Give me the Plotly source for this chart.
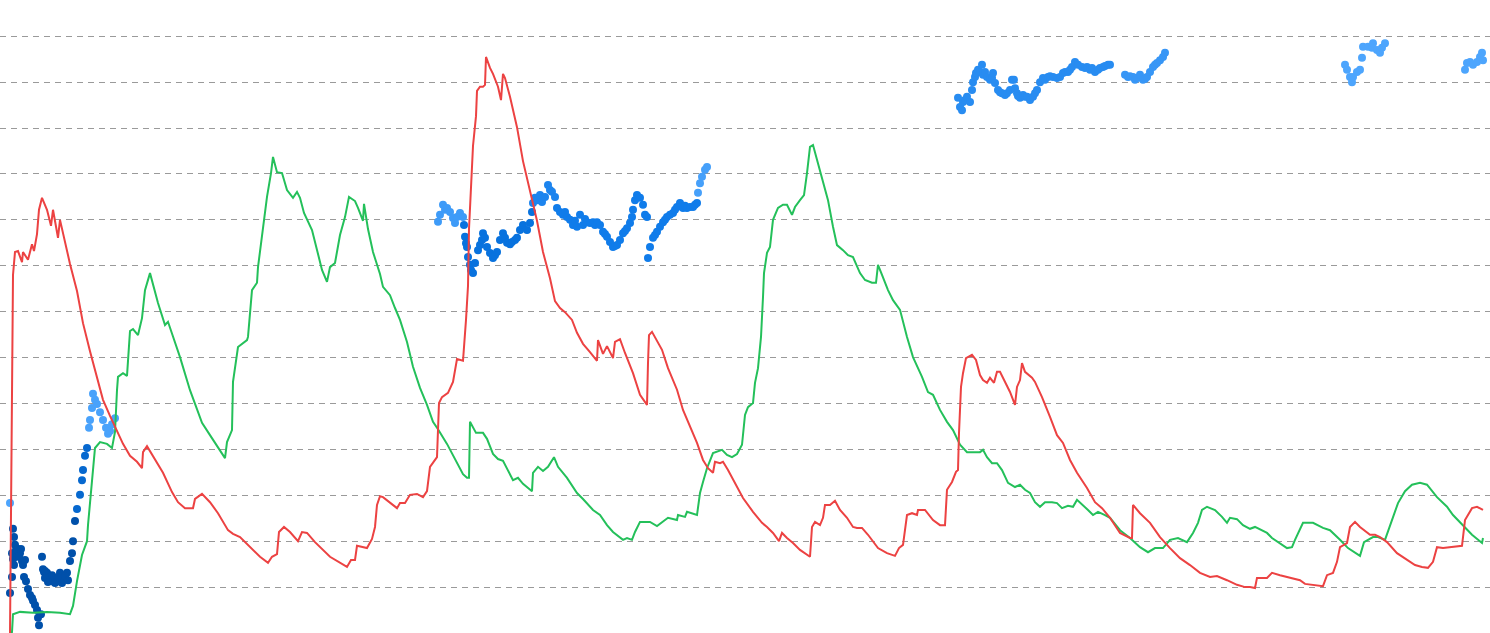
import plotly.graph_objects as go

# ---- red series ----
red_x = [10, 11, 12, 13, 15, 18, 22, 23, 28, 32, 34, 37, 39, 42, 47, 51, 53, 58, 60, 65, 70, 77, 83, 90, 97,
         103, 110, 117, 123, 130, 137, 142, 143, 147, 153, 163, 172, 178, 185, 193, 195, 202, 210, 218, 228,
         233, 240, 250, 260, 268, 272, 277, 279, 284, 290, 298, 302, 307, 315, 330, 340, 347, 351, 355, 357,
         367, 372, 375, 377, 380, 383, 397, 400, 405, 410, 417, 423, 427, 430, 435, 437, 439, 442, 448, 453,
         457, 463, 466, 468, 469, 471, 473, 476, 477, 480, 483, 485, 486, 490, 493, 498, 501, 503, 505, 510,
         517, 523, 530, 537, 543, 550, 555, 560, 565, 572, 577, 583, 590, 597, 598, 603, 607, 610, 613, 615,
         620, 625, 633, 640, 647, 648, 649, 652, 657, 662, 668, 677, 683, 690, 697, 703, 708, 713, 715, 720,
         723, 728, 735, 743, 753, 762, 767, 773, 779, 782, 787, 793, 800, 807, 810, 812, 815, 820, 823, 825,
         830, 835, 840, 847, 853, 857, 862, 868, 878, 887, 895, 899, 903, 907, 912, 917, 918, 925, 933, 940,
         945, 947, 952, 956, 958, 959, 961, 963, 966, 972, 976, 980, 983, 987, 990, 994, 997, 1000, 1005,
         1010, 1015, 1017, 1020, 1022, 1025, 1032, 1035, 1042, 1050, 1057, 1063, 1070, 1077, 1087, 1095,
         1102, 1110, 1120, 1130, 1132, 1133, 1140, 1150, 1160, 1170, 1180, 1190, 1200, 1210, 1217, 1227,
         1237, 1245, 1250, 1255, 1257, 1267, 1272, 1280, 1290, 1300, 1305, 1313, 1323, 1327, 1333, 1337,
         1340, 1347, 1350, 1355, 1360, 1370, 1375, 1380, 1387, 1397, 1407, 1415, 1422, 1428, 1433, 1437,
         1443, 1453, 1462, 1465, 1472, 1477, 1483]
red_y = [0, 29.0, 70.2, 78.0, 83.0, 83.2, 80.8, 83.0, 81.3, 84.7, 83.2, 86.9, 92.2, 94.8, 92.2, 88.7, 92.2,
         86.1, 90.0, 85.2, 80.4, 74.5, 67.5, 61.4, 55.8, 50.8, 47.3, 44.2, 41.2, 38.6, 37.3, 35.9, 39.4,
         40.7, 38.6, 34.9, 30.7, 28.5, 27.2, 27.2, 29.2, 30.3, 28.5, 26.1, 22.4, 21.6, 20.9, 18.7, 16.6,
         15.3, 16.6, 17.2, 22.0, 23.1, 22.0, 20.0, 22.0, 21.8, 19.8, 16.6, 15.3, 14.4, 15.9, 15.9, 19.0,
         18.5, 20.5, 23.1, 27.9, 29.8, 29.6, 27.2, 28.3, 28.3, 30.1, 30.3, 29.6, 30.9, 36.2, 37.9, 38.3,
         50.1, 51.4, 52.3, 54.7, 59.7, 59.3, 68.2, 75.6, 88.0, 96.7, 106.1, 112.6, 118.1, 119.0, 119.0,
         119.4, 125.5, 123.1, 121.8, 119.0, 116.1, 121.8, 120.9, 116.8, 110.2, 102.8, 96.3, 89.8, 83.0,
         77.3, 72.3, 70.8, 69.9, 68.2, 65.4, 63.0, 61.2, 59.3, 63.8, 60.8, 62.5, 61.2, 59.9, 63.4, 64.0,
         61.0, 56.6, 51.9, 49.7, 58.8, 64.9, 65.6, 63.8, 61.7, 57.7, 53.0, 48.6, 44.9, 41.4, 37.7, 35.9,
         34.9, 37.3, 37.0, 37.3, 35.5, 32.7, 29.4, 26.4, 24.0, 23.1, 21.8, 20.0, 21.8, 20.7, 19.6, 18.1,
         17.0, 16.6, 23.1, 24.2, 23.5, 25.1, 27.9, 27.9, 28.8, 26.8, 25.1, 23.1, 22.9, 22.9, 21.4, 18.5,
         17.4, 16.8, 18.5, 19.2, 25.7, 26.1, 25.7, 26.8, 26.8, 24.6, 23.5, 23.5, 31.2, 32.9, 35.1, 35.5,
         43.6, 53.6, 56.6, 59.9, 60.6, 59.5, 56.2, 55.1, 54.5, 55.6, 54.5, 56.9, 56.9, 54.7, 52.5, 49.7,
         53.6, 55.1, 58.8, 56.9, 55.6, 54.7, 51.4, 47.1, 43.1, 41.4, 37.7, 34.9, 31.6, 28.5, 27.2, 25.1,
         21.8, 20.7, 20.7, 27.9, 26.1, 24.0, 20.9, 18.5, 16.3, 14.8, 13.1, 12.2, 12.4, 11.5, 10.5, 10.0,
         10.0, 9.8, 12.0, 12.0, 13.1, 12.6, 12.0, 11.5, 10.7, 10.5, 10.2, 12.6, 13.1, 15.5, 18.7, 19.6,
         23.1, 24.2, 23.1, 21.4, 21.4, 20.9, 19.8, 17.4, 15.9, 14.8, 14.4, 14.2, 15.5, 18.7, 18.5, 18.7,
         19.0, 24.6, 27.2, 27.5, 26.8]

# ---- green series ----
green_x = [10, 12, 13, 20, 33, 47, 60, 70, 73, 77, 82, 87, 88, 92, 95, 100, 107, 112, 115, 117, 118, 123,
           127, 130, 133, 138, 142, 145, 150, 158, 165, 168, 180, 190, 202, 210, 225, 227, 232, 233, 238,
           247, 248, 252, 257, 258, 263, 267, 271, 273, 277, 282, 287, 293, 297, 300, 304, 312, 322, 327,
           330, 335, 340, 345, 349, 355, 358, 363, 364, 368, 373, 380, 383, 390, 395, 400, 407, 413, 420,
           427, 433, 438, 447, 457, 463, 467, 469, 470, 473, 476, 483, 487, 493, 498, 503, 508, 513, 518,
           523, 532, 533, 538, 543, 548, 552, 554, 558, 567, 577, 583, 593, 600, 607, 613, 623, 627, 632,
           635, 640, 650, 657, 663, 668, 677, 678, 685, 687, 697, 700, 703, 707, 713, 722, 727, 732, 737,
           742, 745, 748, 753, 755, 758, 761, 763, 764, 767, 770, 773, 778, 783, 787, 792, 795, 800, 804,
           807, 810, 813, 818, 823, 828, 833, 837, 843, 848, 853, 860, 865, 872, 876, 878, 882, 888, 893,
           900, 907, 913, 922, 928, 933, 940, 947, 953, 960, 967, 973, 980, 983, 987, 992, 997, 1002, 1008,
           1015, 1020, 1025, 1030, 1035, 1040, 1045, 1052, 1057, 1062, 1068, 1073, 1077, 1083, 1088, 1093,
           1098, 1105, 1110, 1120, 1130, 1140, 1148, 1155, 1163, 1170, 1178, 1187, 1193, 1198, 1202, 1207,
           1215, 1222, 1227, 1230, 1237, 1243, 1250, 1255, 1262, 1267, 1272, 1280, 1287, 1292, 1295, 1303,
           1313, 1323, 1330, 1340, 1348, 1360, 1364, 1373, 1378, 1385, 1392, 1398, 1405, 1412, 1420, 1427,
           1437, 1447, 1453, 1463, 1472, 1482, 1483]
green_y = [0, 0.2, 4.1, 4.6, 4.4, 4.6, 4.4, 4.1, 5.9, 11.3, 17.0, 20.0, 23.5, 34.2, 40.3, 41.6, 41.2,
           40.3, 43.8, 52.9, 55.8, 56.6, 56.0, 65.8, 66.2, 64.9, 68.6, 74.7, 78.4, 71.9, 67.1, 67.8, 60.1,
           52.9, 45.8, 43.1, 38.1, 41.6, 44.2, 54.7, 62.3, 63.8, 64.5, 74.7, 76.3, 79.7, 88.5, 95.0, 100.2,
           103.7, 100.4, 100.2, 96.5, 94.8, 96.1, 94.8, 91.5, 87.8, 79.1, 76.5, 79.7, 80.6, 86.7, 90.6, 95.0,
           94.1, 92.6, 89.8, 93.5, 88.0, 83.0, 78.2, 75.4, 73.6, 70.8, 68.2, 63.4, 58.0, 53.4, 49.7, 46.0,
           44.4, 41.2, 37.0, 34.6, 33.8, 33.8, 46.0, 44.9, 43.6, 43.6, 42.3, 39.0, 37.9, 37.5, 35.3, 33.3,
           33.8, 32.5, 30.9, 34.9, 36.2, 35.3, 36.2, 37.5, 38.3, 36.2, 33.8, 30.5, 29.2, 26.8, 25.7, 23.5,
           22.0, 20.3, 20.7, 20.3, 22.0, 24.2, 24.2, 23.3, 24.2, 25.1, 24.6, 25.7, 25.3, 26.4, 25.7, 30.5,
           32.9, 35.9, 39.2, 39.9, 38.8, 38.3, 39.0, 41.0, 47.5, 49.2, 50.1, 54.5, 57.7, 64.5, 73.2, 78.4,
           82.8, 84.1, 90.0, 92.6, 93.3, 93.3, 91.1, 92.8, 94.3, 95.4, 100.2, 105.9, 106.3, 102.4, 98.7,
           94.3, 88.5, 84.5, 83.4, 82.3, 81.9, 78.4, 76.9, 76.3, 76.3, 80.2, 78.0, 74.7, 72.5, 70.4, 64.5,
           60.1, 55.8, 52.5, 51.9, 48.6, 46.0, 44.2, 41.0, 39.4, 39.4, 39.4, 39.9, 38.3, 37.0, 37.0, 35.5,
           32.7, 31.8, 32.3, 31.2, 30.5, 28.5, 27.5, 28.5, 28.5, 28.3, 27.2, 27.7, 27.5, 29.0, 27.9, 26.8,
           25.7, 26.4, 25.7, 25.1, 22.4, 20.7, 18.7, 17.6, 18.5, 18.5, 20.3, 20.7, 19.8, 21.8, 24.0, 26.8,
           27.5, 26.8, 25.3, 24.0, 25.1, 24.8, 23.5, 22.7, 23.1, 22.4, 21.8, 20.7, 19.6, 18.5, 18.7, 20.3,
           24.0, 24.0, 22.9, 22.4, 20.3, 18.5, 16.8, 19.8, 20.9, 20.9, 20.3, 24.6, 28.3, 30.9, 32.3, 32.7,
           32.3, 29.6, 27.5, 25.7, 23.5, 21.4, 19.6, 20.7]

# ---- blue scatter series, in runs that share one intensity level (0 = deep, 1 = pale) ----
blue_a_x = [10]
blue_a_y = [28.3]
blue_a_level = 0.95

blue_b_x = [10, 12, 13, 13, 14, 15, 17, 18, 20, 22, 23, 24, 26, 28, 30, 32, 33, 35, 37, 38, 39, 41, 42, 43,
            45, 47, 50, 53, 55, 57, 60, 63, 65, 67, 70, 72, 73, 75,
            12, 16, 19, 21, 25, 14, 44, 45, 48, 52, 55, 58, 62, 65, 68]
blue_b_y = [8.7, 12.2, 22.7, 16.1, 20.9, 19.2, 16.6, 18.3, 17.4, 15.7, 14.8, 12.2, 11.3, 9.6, 8.3, 7.6, 7.0,
            6.1, 5.0, 3.3, 1.7, 4.1, 16.6, 13.9, 13.5, 13.1, 12.2, 11.3, 12.0, 11.3, 13.1, 12.2, 12.6, 13.1,
            15.7, 17.4, 20.0, 24.4,
            17.4, 18.1, 16.8, 18.3, 15.9, 14.8, 13.3, 12.0, 11.1, 12.6, 10.9, 12.2, 10.9, 12.4, 11.5]
blue_b_level = 0.0

blue_c_x = [77, 80, 82, 83, 85, 87]
blue_c_y = [27.0, 30.1, 33.3, 35.5, 38.6, 40.3]
blue_c_level = 0.3

blue_d_x = [89, 90, 92, 93, 95, 97, 100, 103, 106, 108, 110, 112, 115]
blue_d_y = [44.7, 46.4, 49.0, 52.1, 50.8, 49.9, 48.1, 46.4, 44.7, 43.4, 44.0, 45.5, 46.8]
blue_d_level = 0.92

blue_e_x = [438, 440, 443, 445, 447, 450, 453, 455, 457, 460, 463]
blue_e_y = [89.6, 91.1, 93.3, 92.2, 92.6, 91.7, 90.4, 89.3, 90.6, 91.5, 90.6]
blue_e_level = 0.85

blue_f_x = [464, 465, 466, 467, 468, 470, 471, 473, 475, 478, 480, 482, 483, 485, 487, 490, 493, 495, 497,
            500, 503, 505, 507, 510, 512, 515, 517, 520, 523, 527, 530, 532]
blue_f_y = [88.9, 86.3, 84.9, 84.1, 81.9, 80.2, 79.1, 78.4, 80.6, 83.4, 84.5, 85.6, 87.1, 86.1, 84.1, 82.8,
            81.7, 82.3, 83.0, 85.6, 87.1, 86.1, 85.0, 84.7, 85.2, 85.6, 86.1, 87.8, 88.9, 87.8, 89.3, 91.7]
blue_f_level = 0.42

blue_g_x = [533, 535, 537, 540, 542, 545, 548, 550, 552, 555]
blue_g_y = [93.7, 94.8, 94.3, 95.4, 93.9, 95.0, 97.6, 96.5, 96.1, 95.0]
blue_g_level = 0.62

blue_h_x = [557, 560, 563, 565, 567, 570, 573, 575, 577, 580, 583, 585, 587, 590, 593, 595, 597, 600, 603,
            605, 607, 610, 613, 615, 617, 620, 623, 625, 627, 630, 632, 633, 635, 637, 640, 643, 645, 647,
            648, 650, 653, 655, 657, 660, 663, 665, 667, 670, 673, 675, 677, 680, 683, 685, 687, 690, 693,
            695, 697]
blue_h_y = [92.6, 91.7, 91.1, 91.7, 90.6, 90.0, 88.9, 89.8, 88.5, 91.1, 88.9, 90.2, 89.5, 89.3, 89.5, 88.9,
            89.5, 88.9, 87.4, 86.9, 86.3, 85.2, 84.1, 84.3, 84.5, 85.6, 87.1, 87.6, 88.2, 89.3, 90.6, 92.2,
            94.3, 95.4, 94.8, 93.3, 91.1, 90.6,
            81.7, 84.1, 86.1, 86.7, 87.4, 88.5, 89.5, 90.0, 90.6, 91.1, 91.5, 92.2, 92.8, 93.7, 92.6, 93.1,
            92.6, 92.8, 92.8, 93.3, 93.7]
blue_h_level = 0.54

blue_i_x = [698, 700, 702, 705, 707]
blue_i_y = [95.9, 98.0, 99.4, 100.9, 101.5]
blue_i_level = 0.9

blue_j_x = [958, 960, 962, 963, 965, 967, 970, 972, 973, 975, 976, 978, 980, 982, 983, 985, 987, 990, 992,
            993, 995, 998, 1000, 1002, 1005, 1007, 1010, 1012, 1014, 1015, 1017, 1018, 1020, 1023, 1025,
            1027, 1030, 1033, 1035, 1037, 1040, 1043, 1045, 1048, 1050, 1053, 1057, 1060, 1063, 1065, 1068,
            1070, 1072, 1075, 1078, 1082, 1085, 1087, 1090, 1092, 1095, 1098, 1100, 1103, 1105, 1108, 1110]
blue_j_y = [116.6, 114.6, 113.9, 115.7, 116.1, 116.8, 115.7, 118.3, 120.0, 121.1, 122.0, 122.7, 122.2,
            123.8, 121.6, 122.2, 121.1, 120.5, 120.9, 122.0, 119.8, 118.3, 117.8, 117.6, 117.2, 117.6,
            118.3, 120.5, 120.5, 118.7, 117.6, 117.0, 116.6, 117.2, 116.8, 116.8, 116.1, 116.8, 117.6,
            118.3, 120.0, 120.9, 120.5, 121.1, 121.3, 121.1, 120.9, 121.1, 122.0, 122.2, 122.2, 122.7,
            123.3, 124.4, 123.8, 123.3, 123.1, 123.3, 122.7, 123.1, 122.2, 122.7, 123.1, 123.3, 123.5,
            123.8, 123.8]
blue_j_level = 0.7

blue_k_x = [1125, 1128, 1130, 1133, 1135, 1137, 1140, 1143, 1145, 1147, 1150, 1153, 1155, 1157, 1160,
            1163, 1165]
blue_k_y = [121.6, 121.1, 121.3, 121.1, 120.5, 120.9, 121.6, 120.5, 120.7, 121.1, 122.2, 123.3, 123.8,
            124.2, 124.8, 125.5, 126.4]
blue_k_level = 0.8

blue_l_x = [1345, 1347, 1350, 1352, 1353, 1357, 1360, 1362, 1363, 1368, 1372, 1373, 1377, 1380, 1382,
            1385, 1465, 1467, 1470, 1473, 1477, 1480, 1482, 1483]
blue_l_y = [123.8, 122.7, 121.1, 120.0, 121.1, 122.2, 122.7, 125.3, 127.7, 127.7, 127.5, 128.5, 127.0,
            126.4, 127.5, 128.5, 122.7, 124.2, 124.4, 123.8, 124.4, 125.5, 126.4, 124.8]
blue_l_level = 0.95

blue_runs = [
    (blue_a_x, blue_a_y, blue_a_level), (blue_b_x, blue_b_y, blue_b_level),
    (blue_c_x, blue_c_y, blue_c_level), (blue_d_x, blue_d_y, blue_d_level),
    (blue_e_x, blue_e_y, blue_e_level), (blue_f_x, blue_f_y, blue_f_level),
    (blue_g_x, blue_g_y, blue_g_level), (blue_h_x, blue_h_y, blue_h_level),
    (blue_i_x, blue_i_y, blue_i_level), (blue_j_x, blue_j_y, blue_j_level),
    (blue_k_x, blue_k_y, blue_k_level), (blue_l_x, blue_l_y, blue_l_level),
]

bx, by, bc = [], [], []
for xs, ys, lvl in blue_runs:
    assert len(xs) == len(ys), (xs[0], len(xs), len(ys))
    bx += xs
    by += ys
    bc += [lvl] * len(xs)

fig = go.Figure()

fig.add_trace(go.Scatter(
    x=bx, y=by, mode="markers",
    marker=dict(size=8, color=bc,
                colorscale=[[0, "#0050aa"], [0.5, "#0a78e8"], [1, "#55aaff"]],
                cmin=0, cmax=1, line=dict(width=0)),
    hoverinfo="skip", showlegend=False))

fig.add_trace(go.Scatter(
    x=green_x, y=green_y, mode="lines",
    line=dict(color="#24c05a", width=2), showlegend=False))

fig.add_trace(go.Scatter(
    x=red_x, y=red_y, mode="lines",
    line=dict(color="#ec4242", width=2), showlegend=False))

fig.update_layout(
    width=1490, height=633,
    margin=dict(l=0, r=0, t=0, b=0),
    paper_bgcolor="white", plot_bgcolor="white",
    xaxis=dict(range=[0, 1490], showgrid=False, zeroline=False, showticklabels=False,
               ticks="", showline=False),
    yaxis=dict(range=[0, 137.9], tick0=0, dtick=10, showgrid=True, gridcolor="#9a9a9a",
               gridwidth=1, griddash="6px,5px", zeroline=False, showticklabels=False,
               ticks="", showline=False),
)

fig.write_html(
    "out.html",
    config={"displayModeBar": False},
    post_script="document.body.style.margin='0';document.body.style.overflow='hidden';",
)
